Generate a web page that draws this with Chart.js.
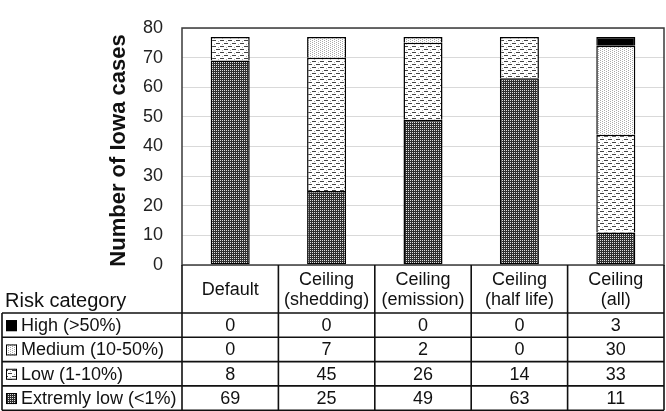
<!DOCTYPE html>
<html><head><meta charset="utf-8">
<script src="https://cdn.jsdelivr.net/npm/chart.js@4.4.1/dist/chart.umd.min.js"></script>
<style>html,body{margin:0;padding:0;background:#fff;overflow:hidden}#wrap{width:666px;height:411px}</style>
</head><body><div id="wrap"><canvas id="c" width="666" height="411"></canvas></div>
<script>
// ---- data ----
const categories = [['Default'], ['Ceiling', '(shedding)'], ['Ceiling', '(emission)'], ['Ceiling', '(half life)'], ['Ceiling', '(all)']];
const riskLabels = ['Extremly low (<1%)', 'Low (1-10%)', 'Medium (10-50%)', 'High (>50%)'];
const extremelyLow = [69, 25, 49, 63, 11];
const low = [8, 45, 26, 14, 33];
const medium = [0, 7, 2, 0, 30];
const high = [0, 0, 0, 0, 3];
const yMin = 0, yMax = 80, yStep = 10;
const yAxisTitle = 'Number of Iowa cases';
const tableTitle = 'Risk category';

const FONT = 'Arial, "Liberation Sans", sans-serif';

function makePattern(kind) {
  const c = document.createElement('canvas');
  const x = c.getContext('2d');
  if (kind === 'xlow') {
    c.width = 2; c.height = 2;
    x.fillStyle = '#2e2e2e'; x.fillRect(0, 0, 2, 2);
    x.fillStyle = '#e0e0e0'; x.fillRect(0, 0, 1, 1);
  } else if (kind === 'low') {
    c.width = 8; c.height = 6;
    x.fillStyle = '#fff'; x.fillRect(0, 0, 8, 6);
    x.fillStyle = '#444';
    x.fillRect(0, 1, 4, 1); x.fillRect(4, 4, 4, 1);
    x.fillStyle = '#b0b0b0';
    x.fillRect(6, 2, 1, 1); x.fillRect(2, 5, 1, 1);
  } else if (kind === 'medium') {
    c.width = 4; c.height = 4;
    x.fillStyle = '#fff'; x.fillRect(0, 0, 4, 4);
    x.fillStyle = '#aaa';
    x.fillRect(0, 0, 1, 1); x.fillRect(2, 1, 1, 1); x.fillRect(0, 2, 1, 1); x.fillRect(2, 3, 1, 1);
  } else {
    return '#000';
  }
  return x.createPattern(c, 'repeat');
}

const ctx0 = document.getElementById('c').getContext('2d');
const fills = [makePattern('xlow'), makePattern('low'), makePattern('medium'), '#000'];
const seriesValues = [extremelyLow, low, medium, high];

const datasets = seriesValues.map((vals, i) => ({
  label: riskLabels[i],
  data: vals,
  backgroundColor: fills[i],
  borderColor: '#000',
  borderWidth: 1.5,
  borderSkipped: i === 0 ? false : 'bottom',
  categoryPercentage: 1,
  barPercentage: 0.405,
  stack: 's'
}));

const tablePlugin = {
  id: 'tablePlugin',
  afterDraw(chart) {
    const ctx = chart.ctx;
    const ca = chart.chartArea;
    const xs = chart.scales.x;
    const n = categories.length;
    const colW = (ca.right - ca.left) / n;
    ctx.save();
    // plot frame
    ctx.strokeStyle = '#3a3a3a';
    ctx.lineWidth = 1.5;
    ctx.strokeRect(ca.left, ca.top, ca.right - ca.left, ca.bottom - ca.top);

    // y axis title
    ctx.save();
    ctx.translate(119, (ca.top + ca.bottom) / 2 + 4);
    ctx.rotate(-Math.PI / 2);
    ctx.fillStyle = '#111';
    ctx.font = 'bold 22px ' + FONT;
    ctx.textAlign = 'center';
    ctx.textBaseline = 'middle';
    ctx.fillText(yAxisTitle, 0, 0);
    ctx.restore();

    // table
    const headerTop = ca.bottom;
    const headerBottom = ca.bottom + 48;
    const rowH = 24.3;
    const tableLeft = 2;
    const rows = [3, 2, 1, 0];
    const tableBottom = headerBottom + rows.length * rowH;
    ctx.strokeStyle = '#111';
    ctx.lineWidth = 1.6;
    ctx.beginPath();
    for (let k = 0; k <= rows.length; k++) {
      const y = headerBottom + k * rowH;
      ctx.moveTo(tableLeft, y); ctx.lineTo(ca.right, y);
    }
    for (let j = 0; j <= n; j++) {
      const x = ca.left + j * colW;
      ctx.moveTo(x, headerTop); ctx.lineTo(x, tableBottom);
    }
    ctx.moveTo(tableLeft, headerBottom); ctx.lineTo(tableLeft, tableBottom);
    ctx.stroke();

    ctx.fillStyle = '#111';
    ctx.textBaseline = 'middle';
    // title
    ctx.font = '20px ' + FONT;
    ctx.textAlign = 'left';
    ctx.fillText(tableTitle, 5, headerTop + 36);
    // headers
    ctx.font = '18px ' + FONT;
    ctx.textAlign = 'center';
    const hc = (headerTop + headerBottom) / 2 + 1;
    categories.forEach((lines, i) => {
      const cx = xs.getPixelForValue(i);
      const lh = 20;
      const y0 = hc - (lines.length - 1) * lh / 2;
      lines.forEach((t, k) => ctx.fillText(t, cx, y0 + k * lh));
    });
    // rows
    rows.forEach((di, r) => {
      const ds = chart.data.datasets[di];
      const cy = headerBottom + r * rowH + rowH / 2 + 1;
      ctx.fillStyle = ds.backgroundColor;
      ctx.fillRect(6, cy - 6, 11, 11);
      ctx.lineWidth = 1;
      ctx.strokeStyle = '#000';
      ctx.strokeRect(6.5, cy - 5.5, 10, 10);
      ctx.fillStyle = '#111';
      ctx.font = '18px ' + FONT;
      ctx.textAlign = 'left';
      ctx.fillText(ds.label, 21, cy);
      ctx.textAlign = 'center';
      ds.data.forEach((v, i) => ctx.fillText(String(v), xs.getPixelForValue(i), cy));
    });
    ctx.restore();
  }
};

new Chart(ctx0, {
  type: 'bar',
  data: { labels: categories.map(c => c.join(' ')), datasets },
  options: {
    responsive: false,
    animation: false,
    devicePixelRatio: 1,
    layout: { padding: { left: 0, right: 2, top: 10, bottom: 146 } },
    plugins: { legend: { display: false }, tooltip: { enabled: false }, title: { display: false } },
    scales: {
      x: { stacked: true, display: false },
      y: {
        stacked: true, min: yMin, max: yMax,
        ticks: { stepSize: yStep, padding: 19, color: '#222', font: { family: FONT, size: 18, lineHeight: 1 } },
        grid: { color: '#d9d9d9', lineWidth: 1, drawTicks: false },
        border: { display: false },
        afterFit(scale) { scale.width = 182; }
      }
    }
  },
  plugins: [tablePlugin]
});
</script>
</body></html>
